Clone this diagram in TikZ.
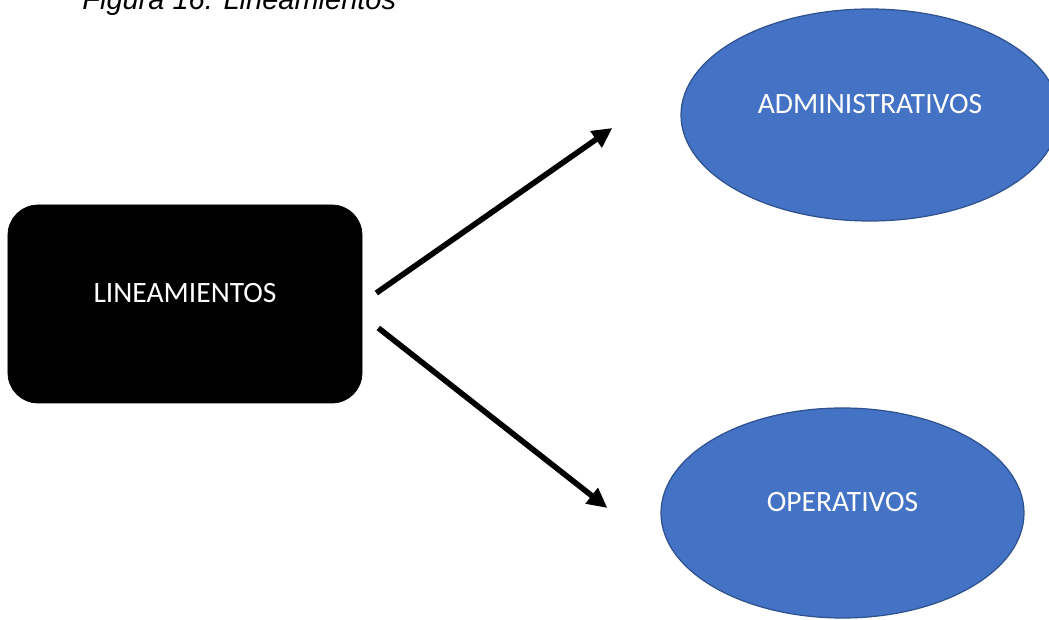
\documentclass[tikz,border=0pt]{standalone}
\usepackage{fontspec}
\setmainfont{Carlito}
\newfontfamily\titlefont{Liberation Sans}
\usetikzlibrary{arrows.meta, positioning, calc, shapes.geometric}
\definecolor{ovalblue}{HTML}{4472C4}
\definecolor{ovaledge}{HTML}{2F528F}

\tikzset{
    mainbox/.style={rectangle, rounded corners=0.6cm, fill=black, draw=black,
        minimum width=7.08cm, minimum height=3.96cm, text=white,
        font=\fontsize{16.8}{20}\selectfont, text height=0.37cm, text depth=0.41cm},
    oval/.style={ellipse, fill=ovalblue, draw=ovaledge, line width=0.7pt, text=white,
        font=\fontsize{16.8}{20}\selectfont, text height=0.37cm, text depth=0.41cm},
    bigarrow/.style={line width=3.2pt, -{Triangle[length=0.40cm, width=0.38cm]}}
}

\begin{document}
\begin{tikzpicture}
        \useasboundingbox (0,0) rectangle (20.98,12.38);

        % Caption
        \node[anchor=base west, inner sep=0pt, font=\titlefont\itshape\fontsize{16.5}{20}\selectfont] (caption) at (1.64,12.18) {Figura 16. Lineamientos};

        % Main box
        \node[mainbox] (lin) at (3.70,6.30) {LINEAMIENTOS};

        % Ovals
        \node[oval, minimum width=7.56cm, minimum height=4.24cm] (adm) at (17.40,10.08) {ADMINISTRATIVOS};
        \node[oval, minimum width=7.26cm, minimum height=4.20cm] (ope) at (16.85,2.12) {OPERATIVOS};

        % Arrow ends
        \coordinate (admS) at ($(lin.east)+(0.28,0.22)$);
        \coordinate (admE) at ($(adm.west)+(-1.36,-0.26)$);
        \coordinate (opeS) at ($(lin.east)+(0.32,-0.48)$);
        \coordinate (opeE) at ($(ope.west)+(-1.06,0.10)$);

        % Arrows
        \draw[bigarrow] (admS) -- (admE);
        \draw[bigarrow] (opeS) -- (opeE);
    \end{tikzpicture}
\end{document}
